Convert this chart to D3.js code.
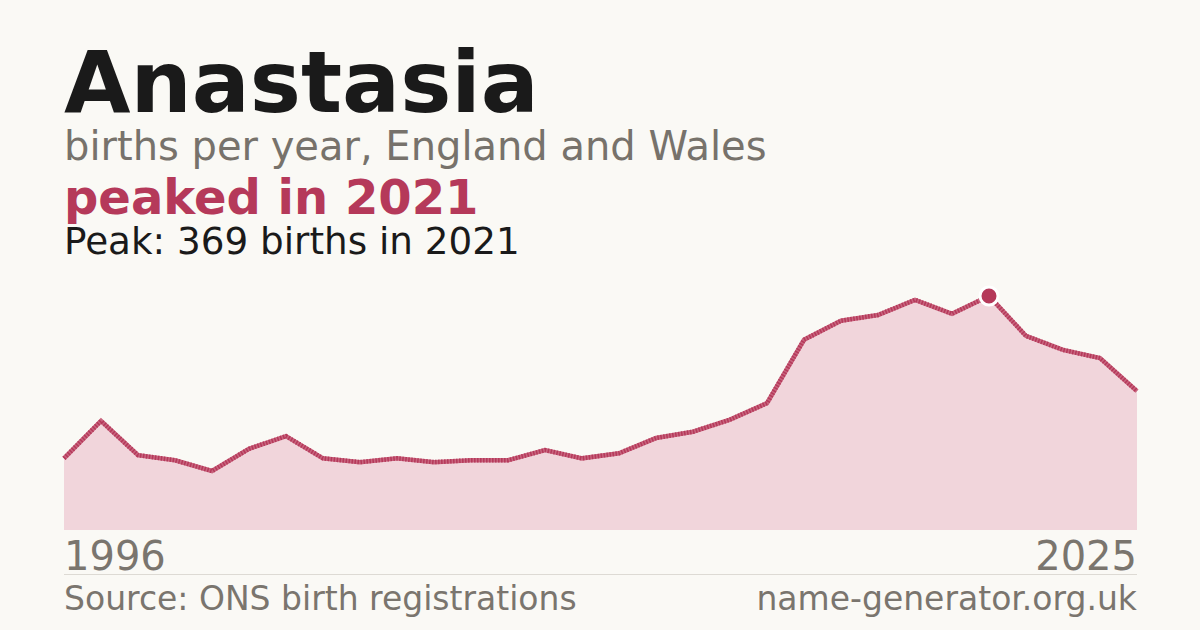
<!DOCTYPE html>
<html><head><meta charset="utf-8">
<script src="https://cdn.jsdelivr.net/npm/d3@7"></script>
<style>
html,body{margin:0;padding:0;background:#faf9f5;}
svg{display:block;font-family:"DejaVu Sans",sans-serif;}
</style></head>
<body>
<svg id="c" width="1200" height="630"></svg>
<script>
const years = d3.range(1996, 2026);
const births = [113, 172, 118, 110, 93, 128, 148, 113, 107, 113, 107, 110, 110, 126, 113, 121, 145, 155, 174, 200, 300, 330, 339, 363, 341, 369, 306, 284, 271, 219];
const titleText = "Anastasia";
const subtitleText = "births per year, England and Wales";
const headlineText = "peaked in 2021";
const peakText = "Peak: 369 births in 2021";
const sourceText = "Source: ONS birth registrations";
const siteText = "name-generator.org.uk";

const data = years.map((y, i) => ({year: y, value: births[i]}));
const svg = d3.select("#c");
svg.append("rect").attr("width", 1200).attr("height", 630).attr("fill", "#faf9f5");

const x = d3.scaleLinear().domain(d3.extent(years)).range([64, 1137]);
const maxV = d3.max(births);
const y = d3.scaleLinear().domain([0, maxV]).range([530, 296]);

// texts
svg.append("text").attr("x", 64).attr("y", 112).attr("font-size", 86).attr("font-weight", "bold").attr("fill", "#1a1a1a").text(titleText);
svg.append("text").attr("x", 64).attr("y", 160).attr("font-size", 40).attr("fill", "#77726b").text(subtitleText);
svg.append("text").attr("x", 64).attr("y", 214).attr("font-size", 48).attr("font-weight", "bold").attr("fill", "#b5395a").text(headlineText);
svg.append("text").attr("x", 64).attr("y", 254).attr("font-size", 37.3).attr("fill", "#1a1a1a").text(peakText);

// area
const area = d3.area().x(d => x(d.year)).y0(y(0)).y1(d => y(d.value));
svg.append("path").datum(data).attr("d", area).attr("fill", "#f1d5db");

const line = d3.line().x(d => x(d.year)).y(d => y(d.value));
svg.append("path").datum(data).attr("d", line).attr("fill", "none")
  .attr("stroke", "#c8647e").attr("stroke-width", 4.5).attr("stroke-linejoin", "miter");
svg.append("path").datum(data).attr("d", line).attr("fill", "none")
  .attr("stroke", "#b5395a").attr("stroke-width", 4.5).attr("stroke-dasharray", "1.5 1.5");

// peak marker
const peak = data.reduce((a, b) => b.value > a.value ? b : a);
svg.append("circle").attr("cx", x(peak.year)).attr("cy", y(peak.value)).attr("r", 9)
  .attr("fill", "#b5395a").attr("stroke", "#ffffff").attr("stroke-width", 3);

// x labels
svg.append("text").attr("x", 64).attr("y", 570).attr("font-size", 40).attr("fill", "#7a756e").text(years[0]);
svg.append("text").attr("x", 1137).attr("y", 570).attr("font-size", 40).attr("fill", "#7a756e").attr("text-anchor", "end").text(years[years.length - 1]);

svg.append("line").attr("x1", 64).attr("x2", 1137).attr("y1", 574.5).attr("y2", 574.5).attr("stroke", "#dddad4").attr("stroke-width", 1);

svg.append("text").attr("x", 64).attr("y", 610).attr("font-size", 33).attr("fill", "#7a756e").text(sourceText);
svg.append("text").attr("x", 1137).attr("y", 610).attr("font-size", 33).attr("fill", "#7a756e").attr("text-anchor", "end").text(siteText);
</script>
</body></html>
